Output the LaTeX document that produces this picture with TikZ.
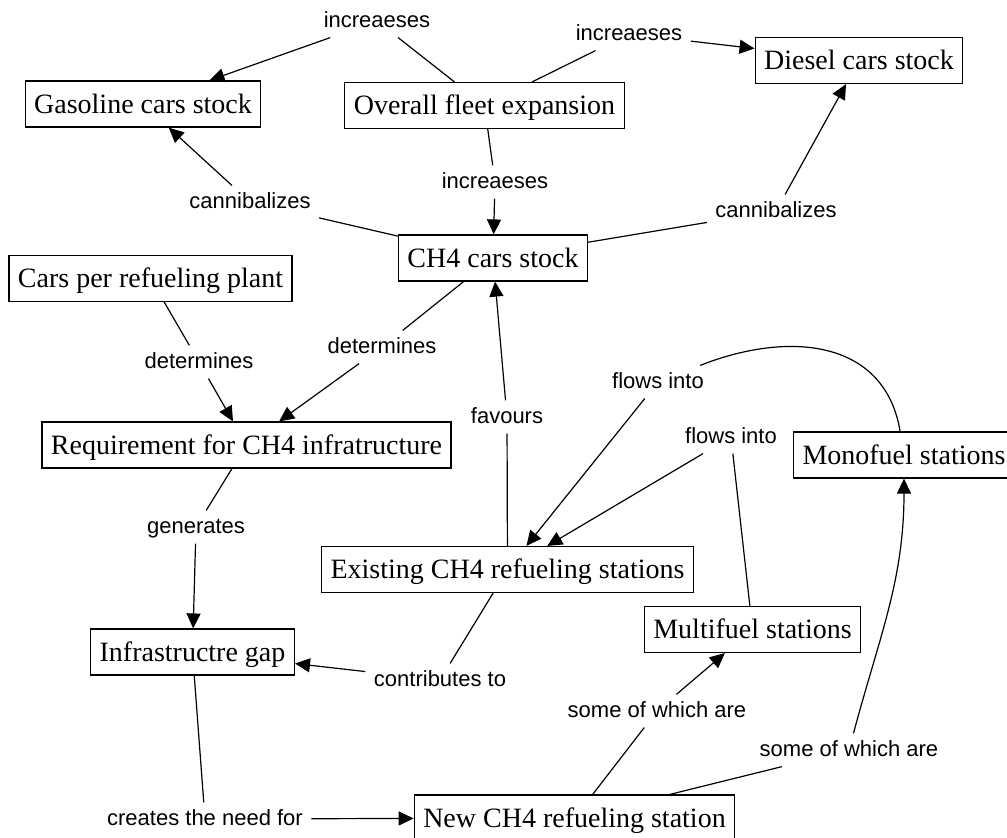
\documentclass[tikz,border=0pt]{standalone}
\usepackage{fontspec}
\setmainfont{Liberation Serif}
\newfontfamily\linkfont{Liberation Sans}
\usetikzlibrary{arrows.meta}

\begin{document}
\begin{tikzpicture}[x=1pt,y=-1pt,line width=1.2pt,
  concept/.style={draw,rectangle,font=\fontsize{28}{30}\selectfont,
    minimum height=46pt,inner xsep=9pt,inner ysep=0pt,text height=18.5pt,text depth=0pt},
  linking/.style={font=\linkfont\fontsize{22}{24}\selectfont,
    inner xsep=8pt,inner ysep=6pt,text height=16pt,text depth=4pt},
  leads/.style={-{Triangle[length=15pt,width=14pt]}}]
  \useasboundingbox (0,0) rectangle (1007,838);

  % concepts
  \node[concept] (gas)    at (143,104)     {Gasoline cars stock};
  \node[concept] (fleet)  at (484.5,105.5) {Overall fleet expansion};
  \node[concept] (diesel) at (859,60.5)    {Diesel cars stock};
  \node[concept] (ch4)    at (493,258)     {CH4 cars stock};
  \node[concept] (plant)  at (150.5,278.5) {Cars per refueling plant};
  \node[concept] (req)    at (246.5,445)   {Requirement for CH4 infratructure};
  \node[concept] (exist)  at (507.5,569.5) {Existing CH4 refueling stations};
  \node[concept] (mono)   at (904,455)     {Monofuel stations};
  \node[concept] (multi)  at (752.5,629.5) {Multifuel stations};
  \node[concept] (gap)    at (192.5,652)   {Infrastructre gap};
  \node[concept] (new)    at (574.5,818)   {New CH4 refueling station};

  % linking phrases
  \node[linking] (incGas)    at (377,21)  {increaeses};
  \node[linking] (incDiesel) at (629,34)  {increaeses};
  \node[linking] (incCh4)    at (495,182) {increaeses};
  \node[linking] (canGas)    at (250,202) {cannibalizes};
  \node[linking] (canDiesel) at (776,211) {cannibalizes};
  \node[linking] (detPlant)  at (199,362) {determines};
  \node[linking] (detCh4)    at (382,347) {determines};
  \node[linking] (fav)       at (507,417) {favours};
  \node[linking] (flowMono)  at (658,382) {flows into};
  \node[linking] (flowMulti) at (731,437) {flows into};
  \node[linking] (gen)       at (196,527) {generates};
  \node[linking] (contrib)   at (440,680) {contributes to};
  \node[linking] (creates)   at (205,819) {creates the need for};
  \node[linking] (someMulti) at (657,711) {some of which are};
  \node[linking] (someMono)  at (849,750) {some of which are};

  % connections
  \draw (fleet) -- (incGas);
  \draw[leads] (incGas) -- (gas);
  \draw (fleet) -- (incDiesel);
  \draw[leads] (incDiesel) -- (diesel);
  \draw (fleet) -- (incCh4);
  \draw[leads] (incCh4) -- (ch4);
  \draw (ch4) -- (canGas);
  \draw[leads] (canGas) -- (gas);
  \draw (ch4) -- (canDiesel);
  \draw[leads] (canDiesel) -- (diesel);
  \draw (plant) -- (detPlant);
  \draw[leads] (detPlant) -- (req);
  \draw (ch4) -- (detCh4);
  \draw[leads] (detCh4) -- (req);
  \draw (exist) -- (fav);
  \draw[leads] (fav) -- (ch4);
  \draw (mono) .. controls (885,340) and (790,330) .. (flowMono);
  \draw[leads] (flowMono) -- (exist);
  \draw (multi) -- (flowMulti);
  \draw[leads] (flowMulti) -- (exist);
  \draw (req) -- (gen);
  \draw[leads] (gen) -- (gap);
  \draw (exist) -- (contrib);
  \draw[leads] (contrib) -- (gap);
  \draw (gap) -- (creates);
  \draw[leads] (creates) -- (new);
  \draw (new) -- (someMulti);
  \draw[leads] (someMulti) -- (multi);
  \draw (new) -- (someMono);
  \draw[leads] (someMono) to[out=75,in=-90] (mono);
\end{tikzpicture}
\end{document}
